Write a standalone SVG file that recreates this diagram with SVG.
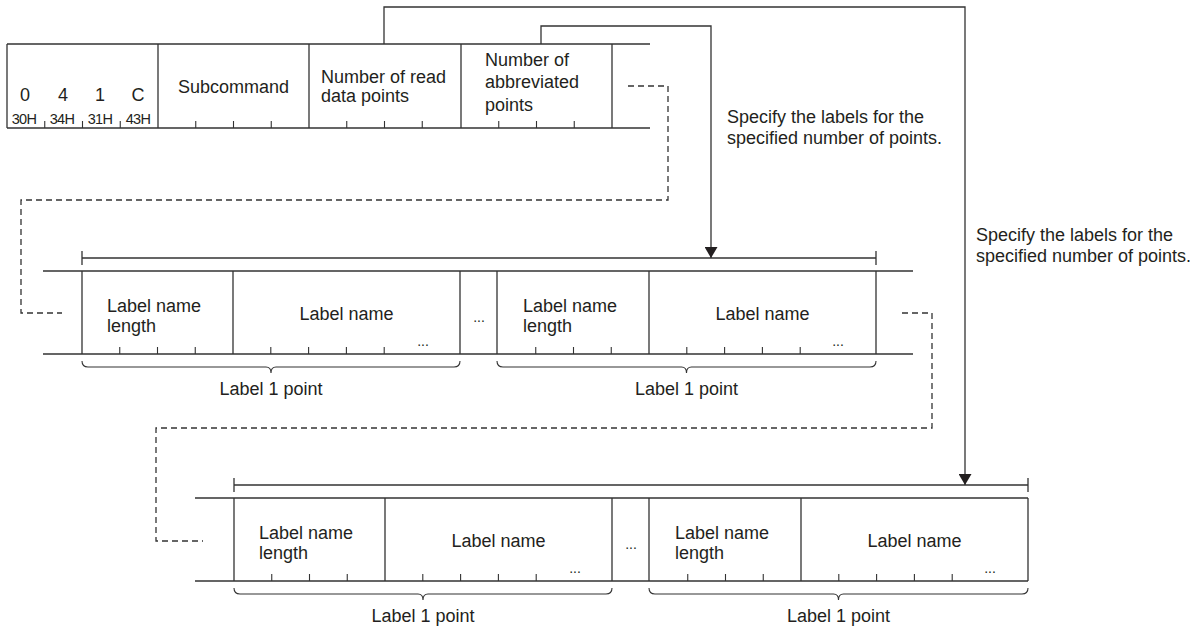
<svg xmlns="http://www.w3.org/2000/svg" width="1200" height="628" viewBox="0 0 1200 628">
<defs>
<style>
.ln{stroke:#333333;stroke-width:1.3;fill:none}
.tk{stroke:#333333;stroke-width:1.1;fill:none}
.ds{stroke:#333333;stroke-width:1.3;fill:none;stroke-dasharray:6 4}
text{font-family:"Liberation Sans",Arial,sans-serif;font-size:18px;fill:#231f20}
.sm{font-size:14.5px;letter-spacing:-0.7px}
.dt{font-size:14px}
.c{text-anchor:middle}
</style>
<marker id="arr" markerWidth="11" markerHeight="13" refX="11" refY="6.5" orient="auto" markerUnits="userSpaceOnUse">
<path d="M0,0 L11,6.5 L0,13 z" fill="#231f20"/>
</marker>
</defs>
<rect width="1200" height="628" fill="#ffffff"/>

<g id="top-row">
<path class="ln" d="M7 44 H650 M7 128 H650 M7 44 V128 M158 44 V128 M309 44 V128 M461 44 V128 M612 44 V128"/>
<path class="tk" d="M44.75 121 V128 M82.5 121 V128 M120.25 121 V128 M195.75 121 V128 M233.5 121 V128 M271.25 121 V128 M346.75 121 V128 M384.5 121 V128 M422.25 121 V128 M498.75 121 V128 M536.5 121 V128 M574.25 121 V128"/>
<g id="cmd">
<text class="c" x="25" y="101">0</text>
<text class="c" x="63" y="101">4</text>
<text class="c" x="100" y="101">1</text>
<text class="c" x="138" y="101">C</text>
<text class="sm c" x="24" y="123.5">30H</text>
<text class="sm c" x="62" y="123.5">34H</text>
<text class="sm c" x="100" y="123.5">31H</text>
<text class="sm c" x="138" y="123.5">43H</text>
</g>
<g id="subcommand"><text class="c" x="233.5" y="93">Subcommand</text></g>
<g id="read-points"><text x="321" y="82.5">Number of read</text><text x="321" y="102">data points</text></g>
<g id="abbrev-points"><text x="485" y="65.5">Number of</text><text x="485" y="88">abbreviated</text><text x="485" y="110.5">points</text></g>
</g>

<g id="note-1"><text x="727" y="123">Specify the labels for the</text><text x="727" y="144">specified number of points.</text></g>
<g id="note-2"><text x="976" y="241">Specify the labels for the</text><text x="976" y="262">specified number of points.</text></g>

<g id="row-abbrev">
<path class="ln" d="M82 258 H876 M82 251 V265 M876 251 V265"/>
<path class="ln" d="M43 271 H913 M43 354 H913 M82 271 V354 M233 271 V354 M460 271 V354 M497 271 V354 M649 271 V354 M876 271 V354"/>
<path class="tk" d="M119.75 347 V354 M157.5 347 V354 M195.25 347 V354 M270.8 347 V354 M308.6 347 V354 M346.4 347 V354 M384.2 347 V354 M535.75 347 V354 M573.5 347 V354 M611.25 347 V354 M686.8 347 V354 M724.6 347 V354 M762.4 347 V354 M800.2 347 V354"/>
<path class="tk" d="M82 361 Q82 367 88 367 H266 Q271 367 271 373 Q271 367 276 367 H454 Q460 367 460 361 M497 361 Q497 367 503 367 H681.5 Q686.5 367 686.5 373 Q686.5 367 691.5 367 H870 Q876 367 876 361"/>
<g id="r2-len1"><text x="107" y="311.5">Label name</text><text x="107" y="332">length</text></g>
<g id="r2-name1"><text class="c" x="346.5" y="320">Label name</text><text class="dt c" x="423" y="346">...</text></g>
<g id="r2-gap"><text class="dt c" x="479" y="322">...</text></g>
<g id="r2-len2"><text x="523" y="311.5">Label name</text><text x="523" y="332">length</text></g>
<g id="r2-name2"><text class="c" x="762.5" y="320">Label name</text><text class="dt c" x="838" y="346">...</text></g>
<text class="c" x="271" y="395">Label 1 point</text>
<text class="c" x="686.5" y="395">Label 1 point</text>
</g>

<g id="row-read" transform="translate(152,227)">
<path class="ln" d="M82 258 H876 M82 251 V265 M876 251 V265"/>
<path class="ln" d="M43 271 H876 M43 354 H876 M82 271 V354 M233 271 V354 M460 271 V354 M497 271 V354 M649 271 V354 M876 271 V354"/>
<path class="tk" d="M119.75 347 V354 M157.5 347 V354 M195.25 347 V354 M270.8 347 V354 M308.6 347 V354 M346.4 347 V354 M384.2 347 V354 M535.75 347 V354 M573.5 347 V354 M611.25 347 V354 M686.8 347 V354 M724.6 347 V354 M762.4 347 V354 M800.2 347 V354"/>
<path class="tk" d="M82 361 Q82 367 88 367 H266 Q271 367 271 373 Q271 367 276 367 H454 Q460 367 460 361 M497 361 Q497 367 503 367 H681.5 Q686.5 367 686.5 373 Q686.5 367 691.5 367 H870 Q876 367 876 361"/>
<g id="r3-len1"><text x="107" y="311.5">Label name</text><text x="107" y="332">length</text></g>
<g id="r3-name1"><text class="c" x="346.5" y="320">Label name</text><text class="dt c" x="423" y="346">...</text></g>
<g id="r3-gap"><text class="dt c" x="479" y="322">...</text></g>
<g id="r3-len2"><text x="523" y="311.5">Label name</text><text x="523" y="332">length</text></g>
<g id="r3-name2"><text class="c" x="762.5" y="320">Label name</text><text class="dt c" x="838" y="346">...</text></g>
<text class="c" x="271" y="395">Label 1 point</text>
<text class="c" x="686.5" y="395">Label 1 point</text>
</g>

<g id="connectors">
<path class="ln" d="M384 44 V7 H965 V485" marker-end="url(#arr)"/>
<path class="ln" d="M541 44 V26 H711 V258" marker-end="url(#arr)"/>
<path class="ds" d="M628 86 H668 V200 H21 V313 H62"/>
<path class="ds" d="M902 313 H932 V428 H156 V541 H203"/>
</g>
</svg>
